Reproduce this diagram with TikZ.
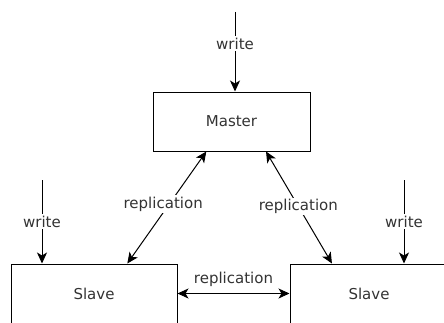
\documentclass[tikz,border=0pt]{standalone}
\usepackage{fontspec}
\setmainfont{DejaVu Sans}
\usetikzlibrary{arrows.meta,positioning}

\begin{document}
\begin{tikzpicture}[x=1pt,y=1pt,line width=1pt,font=\fontsize{15}{18}\selectfont]
	\tikzset{box/.style={draw,minimum height=59pt,inner sep=0pt,text=black!80}}
	\tikzset{lbl/.style={fill=white,inner sep=1.5pt,text=black!80}}
	\tikzset{>={Stealth[length=11pt,width=10pt,inset=3pt]}}
	\useasboundingbox (0,0) rectangle (444,322);
	\node[box,minimum width=157pt] (master) at (231.5,200.5) {Master};
	\node[box,minimum width=166pt] (slaveA) at (94,28.5) {Slave};
	\node[box,minimum width=158pt] (slaveB) at (369,28.5) {Slave};
	\coordinate (wM) at (235,310);
	\coordinate (wA) at (42,142);
	\coordinate (wB) at (404,142);
	\path[->]
		(wM) edge node[lbl,pos=0.4] {write} (wM |- master.north)
		(wA) edge node[lbl] {write} (wA |- slaveA.north)
		(wB) edge node[lbl] {write} (wB |- slaveB.north);
	\path[<->]
		(master.230) edge node[lbl,pos=0.47,xshift=-6pt] {replication} (slaveA.42)
		(master.319) edge node[lbl,pos=0.49] {replication} (slaveB.141)
		(slaveA.east) edge node[above=3pt,text=black!80] {replication} (slaveB.west);
\end{tikzpicture}
\end{document}
